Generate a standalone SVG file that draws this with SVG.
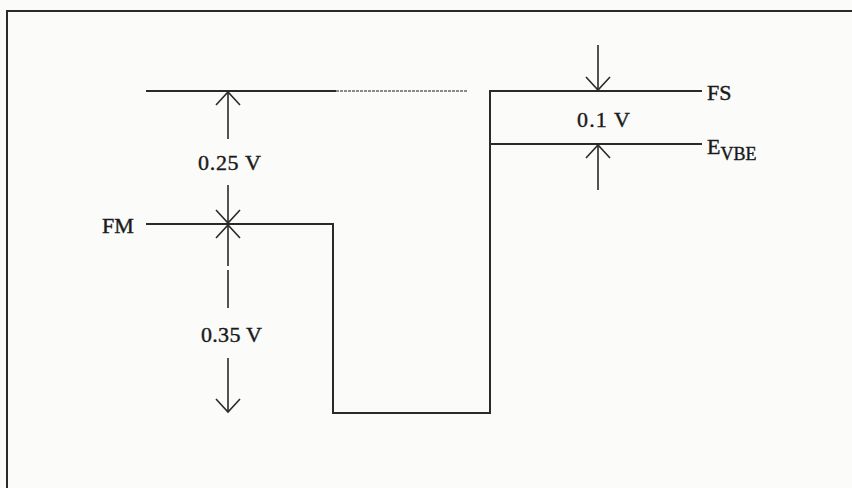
<svg xmlns="http://www.w3.org/2000/svg" width="852" height="488" viewBox="0 0 852 488">
<style>
.ln{stroke:#2a2a2a;stroke-width:2;fill:none}
.ar{stroke:#2a2a2a;stroke-width:1.6;fill:none}
.t{font-family:"Liberation Serif","Times New Roman",serif;font-size:22px;fill:#1a1a1a;stroke:#1a1a1a;stroke-width:0.4}
.s{font-size:18px}
</style>
<rect x="0" y="0" width="852" height="488" fill="#fbfbfa"/>
<g id="frame">
<polyline class="ln" points="7,488 7,11 852,11" stroke="#555"/>
</g>
<g id="levels">
<line class="ln" x1="146" y1="91" x2="336" y2="91"/>
<line x1="336" y1="91" x2="468" y2="91" stroke="#666" stroke-width="1.6" stroke-dasharray="3 1"/>
<polyline id="well" class="ln" points="146,224 333,224 333,413 490,413 490,91 702,91"/>
<line class="ln" x1="490" y1="144" x2="702" y2="144"/>
</g>
<g id="connectors">
<line class="ar" x1="228" y1="139" x2="228" y2="92"/>
<polyline class="ar" points="216,105 228,92 240,105"/>
<line class="ar" x1="228" y1="185" x2="228" y2="223"/>
<polyline class="ar" points="216,210 228,223 240,210"/>
<line class="ar" x1="228" y1="225" x2="228" y2="266"/>
<line class="ar" x1="228" y1="270" x2="228" y2="308"/>
<polyline class="ar" points="216,238 228,225 240,238"/>
<line class="ar" x1="228" y1="358" x2="228" y2="412"/>
<polyline class="ar" points="216,399 228,412 240,399"/>
<line class="ar" x1="598" y1="45" x2="598" y2="90"/>
<polyline class="ar" points="586,77 598,90 610,77"/>
<line class="ar" x1="598" y1="190" x2="598" y2="145"/>
<polyline class="ar" points="586,158 598,145 610,158"/>
</g>
<g id="labels">
<text class="t" x="102" y="233">FM</text>
<text class="t" x="198" y="170" textLength="63">0.25 V</text>
<text class="t" x="201" y="342" textLength="61">0.35 V</text>
<text class="t" x="577" y="127" textLength="53">0.1 V</text>
<text class="t" x="707" y="100">FS</text>
<text class="t" x="707" y="154">E<tspan class="s" dy="6">VBE</tspan></text>
</g>
</svg>
